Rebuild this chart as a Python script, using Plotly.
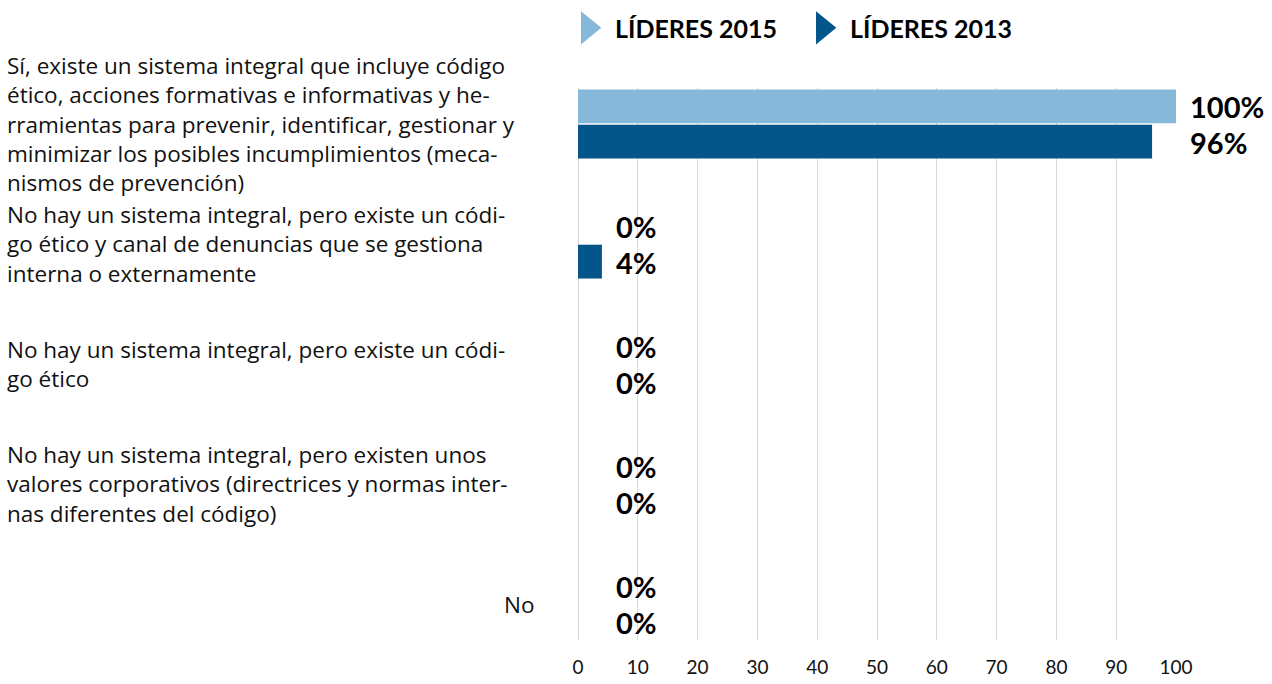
import plotly.graph_objects as go

# Survey answers (top to bottom) and share of respondents per edition
categories = [
    "Sí, existe un sistema integral que incluye código<br>ético, acciones formativas e informativas y he-<br>rramientas para prevenir, identificar, gestionar y<br>minimizar los posibles incumplimientos (meca-<br>nismos de prevención)",
    "No hay un sistema integral, pero existe un códi-<br>go ético y canal de denuncias que se gestiona<br>interna o externamente",
    "No hay un sistema integral, pero existe un códi-<br>go ético",
    "No hay un sistema integral, pero existen unos<br>valores corporativos (directrices y normas inter-<br>nas diferentes del código)",
    "No",
]
series_names = ["LÍDERES 2015", "LÍDERES 2013"]
lideres_2015 = [100, 0, 0, 0, 0]
lideres_2013 = [96, 4, 0, 0, 0]
x_ticks = [0, 10, 20, 30, 40, 50, 60, 70, 80, 90, 100]

COLORS = ["#86B8DA", "#03558A"]
FONT = "Lato"
BODY_FONT = "Open Sans"
TEXT = "#111111"

fig = go.Figure()
for name, values, color in zip(series_names, [lideres_2015, lideres_2013], COLORS):
    fig.add_trace(go.Bar(
        y=categories, x=values, name=name, orientation="h",
        marker=dict(color=color, line=dict(width=0)),
        showlegend=False, hoverinfo="x+name",
    ))

# Value labels: the pair for each answer sits just right of its longer bar
LABEL_FLOOR = 4
for cat, v15, v13 in zip(categories, lideres_2015, lideres_2013):
    x_lab = max(v15, v13, LABEL_FLOOR)
    for val, shift in ((v15, 18), (v13, -18)):
        fig.add_annotation(
            x=x_lab, y=cat, xref="x", yref="y", text=f"{val}%",
            showarrow=False, xanchor="left", yanchor="middle",
            xshift=12, yshift=shift,
            font=dict(family=FONT, size=29, color="#000000", weight="bold"),
        )

# Category text on the left; single-line answers are right-aligned next to the axis
for cat in categories:
    multiline = "<br>" in cat
    fig.add_annotation(
        x=-0.958 if multiline else -0.07, y=cat, xref="paper", yref="y",
        text=cat, showarrow=False,
        xanchor="left" if multiline else "right", align="left",
        yanchor="middle",
        font=dict(family=BODY_FONT, size=22.5, color=TEXT),
    )

# Legend drawn as triangle glyphs with bold captions above the plot
legend_x = [0.005, 0.398]
for name, color, lx in zip(series_names, COLORS, legend_x):
    w, h, yc = 0.034, 0.06, 1.109
    fig.add_shape(
        type="path", xref="paper", yref="paper",
        path=f"M {lx},{yc - h / 2} L {lx + w},{yc} L {lx},{yc + h / 2} Z",
        fillcolor=color, line=dict(width=0),
    )
    fig.add_annotation(
        x=lx + 0.054, y=yc, xref="paper", yref="paper", text=name,
        showarrow=False, xanchor="left", yanchor="middle",
        font=dict(family=FONT, size=25, color="#000000", weight="bold"),
    )

fig.update_layout(
    width=1272, height=684,
    margin=dict(l=578, r=96, t=88, b=44),
    paper_bgcolor="white", plot_bgcolor="white",
    barmode="group", bargap=0.413, bargroupgap=0.04,
    font=dict(family=FONT, color=TEXT),
)
fig.update_xaxes(
    range=[0, 100], tickvals=x_ticks, showgrid=True, gridcolor="#D9D9D9",
    gridwidth=1, zeroline=True, zerolinecolor="#D9D9D9", zerolinewidth=1,
    showline=False, ticks="", ticklabelstandoff=14, automargin=False,
    tickfont=dict(family=FONT, size=19, color=TEXT),
)
fig.update_yaxes(
    range=[4.3, -0.3], showticklabels=False, showgrid=False,
    zeroline=False, showline=False, ticks="", automargin=False,
)

fig.write_html("out.html")
